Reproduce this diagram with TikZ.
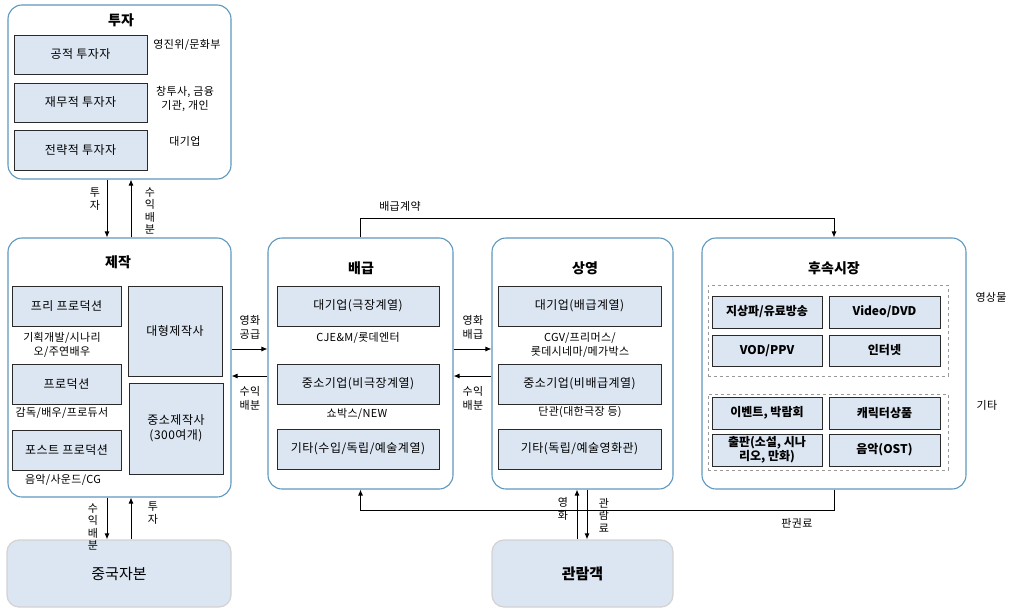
\documentclass[tikz,border=0pt]{standalone}
\usepackage{fontspec}
\setmainfont{Noto Sans CJK KR}
\usetikzlibrary{arrows.meta}
\definecolor{outerc}{HTML}{5E97BF}
\definecolor{innerf}{HTML}{DCE6F2}
\definecolor{innerd}{HTML}{2A2A2A}
\begin{document}
\begin{tikzpicture}[x=1pt,y=-1pt,
  outerbox/.style={draw=outerc, line width=1.1pt, rounded corners=14pt, fill=white, inner sep=0pt},
  ibox/.style={draw=innerd, line width=0.9pt, fill=innerf, inner sep=1pt, align=center, font=\fontsize{12}{15}\selectfont\addfontfeatures{LetterSpace=4}},
  sbox/.style={ibox, font=\fontsize{12}{14}\selectfont\bfseries},
  grp/.style={draw=gray!80, dashed, line width=0.8pt, inner sep=0pt},
  title/.style={font=\fontsize{14}{16}\selectfont\bfseries},
  lbl/.style={font=\fontsize{11}{14}\selectfont\addfontfeatures{LetterSpace=3}, align=center, inner sep=0pt},
  vlbl/.style={font=\fontsize{11}{12.5}\selectfont, align=center, inner sep=0pt},
  capbox/.style={fill=innerf, draw=gray!35, line width=1.2pt, rounded corners=12pt, font=\fontsize{15}{18}\selectfont\bfseries},
  arr/.style={-{Latex[length=6pt,width=5pt]}, line width=0.9pt, black}
]
\useasboundingbox (0,0) rectangle (1023,613);

% ---------- 투자 ----------
\node[outerbox, minimum width=223, minimum height=174] (tuja) at (119.5,92) {};
\node[title] (tujaT) at (121,20) {투자};
\node[ibox, minimum width=133, minimum height=39] (t1) at (80.5,54.5) {공적 투자자};
\node[ibox, minimum width=133, minimum height=39] (t2) at (80.5,102.5) {재무적 투자자};
\node[ibox, minimum width=133, minimum height=40] (t3) at (80.5,150) {전략적 투자자};
\node[lbl] (tl1) at (187,45) {영진위/문화부};
\node[lbl] (tl2) at (185,99) {창투사, 금융\\기관, 개인};
\node[lbl] (tl3) at (185,141) {대기업};

% ---------- 제작 ----------
\node[outerbox, minimum width=223, minimum height=259] (jejak) at (119.5,367.5) {};
\node[title] (jejakT) at (118,262) {제작};
\node[ibox, minimum width=109, minimum height=40] (j1) at (66.5,306) {프리 프로덕션};
\node[lbl] (jl1) at (62,345) {기획개발/시나리\\오/주연배우};
\node[ibox, minimum width=109, minimum height=40] (j2) at (66.5,384) {프로덕션};
\node[lbl] (jl2) at (62,413) {감독/배우/프로듀서};
\node[ibox, minimum width=109, minimum height=40] (j3) at (66.5,450) {포스트 프로덕션};
\node[lbl] (jl3) at (63,480) {음악/사운드/CG};
\node[ibox, minimum width=94, minimum height=90] (j4) at (175,331) {대형제작사};
\node[ibox, minimum width=94, minimum height=91] (j5) at (176,428.5) {중소제작사\\(300여개)};

% ---------- 중국자본 ----------
\node[capbox, minimum width=224, minimum height=67, font=\fontsize{15}{18}\selectfont] (china) at (119,573.5) {중국자본};

% ---------- 배급 ----------
\node[outerbox, minimum width=185, minimum height=251] (baegeup) at (360.5,363.5) {};
\node[title] (baegeupT) at (361,268) {배급};
\node[ibox, minimum width=162, minimum height=40] (b1) at (358,306) {대기업(극장계열)};
\node[lbl] (bl1) at (358,338) {CJE\&M/롯데엔터};
\node[ibox, minimum width=162, minimum height=40] (b2) at (358,384) {중소기업(비극장계열)};
\node[lbl] (bl2) at (357,414) {쇼박스/NEW};
\node[ibox, minimum width=162, minimum height=40] (b3) at (358,449) {기타(수입/독립/예술계열)};

% ---------- 상영 ----------
\node[outerbox, minimum width=181, minimum height=251] (sangyeong) at (582.5,363.5) {};
\node[title] (sangyeongT) at (585,268) {상영};
\node[ibox, minimum width=163, minimum height=40] (s1) at (579.5,306) {대기업(배급계열)};
\node[lbl] (sl1) at (580,345) {CGV/프리머스/\\롯데시네마/메가박스};
\node[ibox, minimum width=163, minimum height=40] (s2) at (579.5,384) {중소기업(비배급계열)};
\node[lbl] (sl2) at (580,412) {단관(대한극장 등)};
\node[ibox, minimum width=163, minimum height=40] (s3) at (579.5,449) {기타(독립/예술영화관)};

% ---------- 관람객 ----------
\node[capbox, minimum width=181, minimum height=67] (gwan) at (582.5,573.5) {관람객};

% ---------- 후속시장 ----------
\node[outerbox, minimum width=264, minimum height=251] (husok) at (834,363.5) {};
\node[title] (husokT) at (834,268) {후속시장};
\node[grp, minimum width=240, minimum height=91] (g1) at (828,330.5) {};
\node[grp, minimum width=240, minimum height=76] (g2) at (828,432) {};
\node[sbox, minimum width=110, minimum height=32] (h1) at (767,312) {지상파/유료방송};
\node[sbox, minimum width=111, minimum height=32] (h2) at (884.5,312) {Video/DVD};
\node[sbox, minimum width=110, minimum height=31] (h3) at (767,350.5) {VOD/PPV};
\node[sbox, minimum width=111, minimum height=31] (h4) at (884.5,350.5) {인터넷};
\node[sbox, minimum width=110, minimum height=32] (h5) at (767,413) {이벤트, 박람회};
\node[sbox, minimum width=111, minimum height=32] (h6) at (884.5,413) {캐릭터상품};
\node[sbox, minimum width=110, minimum height=32, font=\fontsize{12}{12.5}\selectfont\bfseries] (h7) at (767,450) {출판(소설, 시나\\리오, 만화)};
\node[sbox, minimum width=111, minimum height=32] (h8) at (884.5,450) {음악(OST)};
\node[lbl] (hl1) at (991,297) {영상물};
\node[lbl] (hl2) at (987,405) {기타};

% ---------- connectors ----------
\draw[arr] (tuja.south -| 107,0) -- (jejak.north -| 107,0);
\draw[arr] (jejak.north -| 131,0) -- (tuja.south -| 131,0);
\node[vlbl] (lb1) at (95,199) {투\\자};
\node[vlbl] (lb2) at (150,211) {수\\익\\배\\분};

\draw[arr] (jejak.south -| 107,0) -- (china.north -| 107,0);
\draw[arr] (china.north -| 131,0) -- (jejak.south -| 131,0);
\node[vlbl] (lb3) at (93,527) {수\\익\\배\\분};
\node[vlbl] (lb4) at (153,513) {투\\자};

\draw[arr] (jejak.east |- 0,349) -- (baegeup.west |- 0,349);
\draw[arr] (baegeup.west |- 0,376) -- (jejak.east |- 0,376);
\node[lbl] (lb5) at (250,327) {영화\\공급};
\node[lbl] (lb6) at (250,398) {수익\\배분};

\draw[arr] (baegeup.east |- 0,349) -- (sangyeong.west |- 0,349);
\draw[arr] (sangyeong.west |- 0,376) -- (baegeup.east |- 0,376);
\node[lbl] (lb7) at (473,327) {영화\\배급};
\node[lbl] (lb8) at (473,398) {수익\\배분};

\draw[arr] (baegeup.north) -- (baegeup.north |- 0,218) -| (husok.north);
\node[lbl] (lb9) at (400,206) {배급계약};

\draw[arr] (husok.south) -- (husok.south |- 0,510) -| (baegeup.south);
\node[lbl] (lb10) at (797,523) {판권료};

\draw[arr] (gwan.north -| 577,0) -- (sangyeong.south -| 577,0);
\draw[arr] (sangyeong.south -| 587,0) -- (gwan.north -| 587,0);
\node[vlbl] (lb11) at (563,509) {영\\화};
\node[vlbl] (lb12) at (604,515) {관\\람\\료};
\end{tikzpicture}
\end{document}
